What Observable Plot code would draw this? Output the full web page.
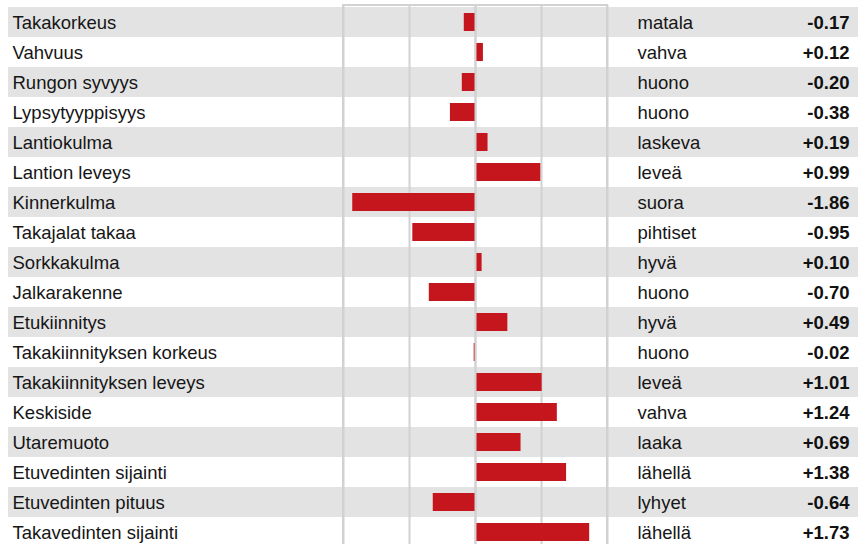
<!DOCTYPE html>
<html><head><meta charset="utf-8">
<script src="https://cdn.jsdelivr.net/npm/d3@7"></script>
<script src="https://cdn.jsdelivr.net/npm/@observablehq/plot@0.6"></script>
<style>html,body{margin:0;padding:0;background:#fff} svg{display:block}</style>
</head><body><div id="chart"></div>
<script>
const traits = ["Takakorkeus","Vahvuus","Rungon syvyys","Lypsytyyppisyys","Lantiokulma","Lantion leveys","Kinnerkulma","Takajalat takaa","Sorkkakulma","Jalkarakenne","Etukiinnitys","Takakiinnityksen korkeus","Takakiinnityksen leveys","Keskiside","Utaremuoto","Etuvedinten sijainti","Etuvedinten pituus","Takavedinten sijainti"];
const values = [-0.17, 0.12, -0.20, -0.38, 0.19, 0.99, -1.86, -0.95, 0.10, -0.70, 0.49, -0.02, 1.01, 1.24, 0.69, 1.38, -0.64, 1.73];
const descriptors = ["matala","vahva","huono","huono","laskeva","leveä","suora","pihtiset","hyvä","huono","hyvä","huono","leveä","vahva","laaka","lähellä","lyhyet","lähellä"];
const gridTicks = [-2, -1, 0, 1, 2];

const rows = traits.map((t, i) => ({trait: t, value: values[i], desc: descriptors[i], idx: i}));
const fmt = v => (v > 0 ? "+" : v < 0 ? "-" : "") + Math.abs(v).toFixed(2);
const font = "'Liberation Sans', Arial, Helvetica, sans-serif";
const fs = 18.5;

const chart = Plot.plot({
  width: 858, height: 544,
  marginTop: 5, marginLeft: 8, marginRight: 0, marginBottom: 0,
  x: {domain: [-2, 2], range: [343, 607], axis: null},
  y: {domain: traits, range: [7, 547], padding: 0, axis: null},
  style: {fontFamily: font, fontSize: "18px", background: "#fff"},
  marks: [
    Plot.cell(rows.filter(d => d.idx % 2 === 0), {y: "trait", fill: "#e3e3e3"}),
    Plot.ruleX(gridTicks, {stroke: "#d2d2d2", strokeWidth: 2}),
    Plot.rect([0], {x1: -2, x2: 2, stroke: "#d2d2d2", strokeWidth: 2, fill: "none", insetBottom: -20}),
    Plot.barX(rows, {x: "value", y: "trait", fill: "#c4161c", insetTop: 6, insetBottom: 6}),
    Plot.ruleX([0], {stroke: "#d2d2d2", strokeWidth: 2}),
    Plot.text(rows, {y: "trait", text: "trait", frameAnchor: "left", textAnchor: "start", dx: 4, dy: 1, fill: "#161616", fontSize: fs, fontFamily: font}),
    Plot.text(rows, {y: "trait", text: "desc", frameAnchor: "right", textAnchor: "start", dx: -221, dy: 1, fill: "#161616", fontSize: fs, fontFamily: font}),
    Plot.text(rows, {y: "trait", text: d => fmt(d.value), frameAnchor: "right", textAnchor: "end", dx: -9, dy: 1, fill: "#111", fontSize: fs, fontFamily: font, fontWeight: "bold"})
  ]
});
document.getElementById("chart").append(chart);
</script>
</body></html>
